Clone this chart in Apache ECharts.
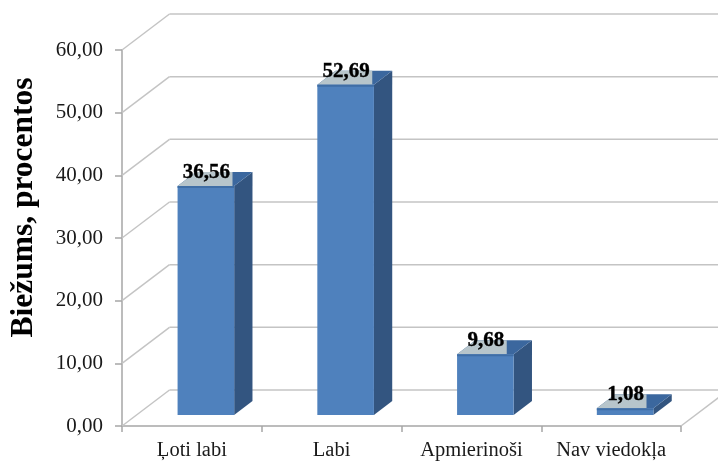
<!DOCTYPE html>
<html><head><meta charset="utf-8">
<style>html,body{margin:0;padding:0;background:#fff}#c{width:718px;height:462px;filter:blur(0.4px)}</style>
<script src="https://cdn.jsdelivr.net/npm/echarts@6/dist/echarts.min.js"></script>
</head><body><div id="c"></div>
<script>
const categories = ['Ļoti labi', 'Labi', 'Apmierinoši', 'Nav viedokļa'];
const values = [36.56, 52.69, 9.68, 1.08];
const tickValues = [0, 10, 20, 30, 40, 50, 60];
const fmt = v => v.toFixed(2).replace('.', ',');
const SERIF = '"Liberation Serif","Times New Roman",serif';
const WALL = [47.5, -36];      // depth of the chart box
const NEAR = [14, -11];        // bar front plane offset
const DEPTH = [18.3, -14];     // bar depth
const GRID = '#c4c4c4';
const LABEL_SIZE = 21;

const chart = echarts.init(document.getElementById('c'), null, {renderer: 'canvas'});
chart.setOption({
  animation: false,
  grid: {left: 122, right: 37, top: 50, bottom: 36, outerBoundsMode: 'none', containLabel: false},
  xAxis: {
    type: 'category', data: categories,
    axisLine: {lineStyle: {color: '#a6a6a6', width: 1.5}},
    axisTick: {show: true, alignWithLabel: false, length: 6, lineStyle: {color: '#a6a6a6', width: 1.5}},
    axisLabel: {color: '#1a1a1a', fontFamily: SERIF, fontSize: 20.5, margin: 14, interval: 0, hideOverlap: false}
  },
  yAxis: {
    type: 'value', min: 0, max: 60, interval: 10,
    name: 'Biežums, procentos', nameLocation: 'middle', nameGap: 82,
    nameTextStyle: {color: '#000', fontFamily: SERIF, fontSize: 31.5, fontWeight: 'bold', padding: [0, 0, 0, 61]},
    axisLine: {show: true, lineStyle: {color: '#a6a6a6', width: 1.5}},
    axisTick: {show: true, length: 7, lineStyle: {color: '#a6a6a6', width: 1.5}},
    splitLine: {show: false},
    axisLabel: {color: '#1a1a1a', fontFamily: SERIF, fontSize: 21, margin: 19, padding: [3, 0, 0, 0], formatter: fmt}
  },
  series: [
    {
      type: 'custom', silent: true, z: 1,
      data: tickValues.map(v => [v]),
      encode: {y: 0},
      renderItem(params, api) {
        const v = api.value(0);
        const l = api.coord([0, v]);
        const x0 = params.coordSys.x, x1 = x0 + params.coordSys.width;
        const y = l[1];
        const style = {stroke: GRID, lineWidth: 1.5, fill: null};
        const kids = [
          {type: 'line', shape: {x1: x0, y1: y, x2: x0 + WALL[0], y2: y + WALL[1]}, style},
          {type: 'line', shape: {x1: x0 + WALL[0], y1: y + WALL[1], x2: x1 + WALL[0], y2: y + WALL[1]}, style}
        ];
        if (v === 0) kids.push({type: 'line', shape: {x1: x1, y1: y, x2: x1 + WALL[0], y2: y + WALL[1]}, style});
        return {type: 'group', children: kids};
      }
    },
    {
      type: 'custom', z: 2,
      data: categories.map((c, i) => [i, values[i]]),
      encode: {x: 0, y: 1},
      renderItem(params, api) {
        const idx = api.value(0), val = api.value(1);
        const base = api.coord([idx, 0]), top = api.coord([idx, val]);
        const w = 56.6;
        const x = base[0] + NEAR[0] - w / 2, x2 = x + w;
        const yb = base[1] + NEAR[1], yt = top[1] + NEAR[1];
        const [dx, dy] = DEPTH;
        const text = fmt(val);
        const labelHalf = (text.length - 1) * 0.5 * LABEL_SIZE / 2 + 0.25 * LABEL_SIZE / 2;
        const grayR = x + w / 2 + labelHalf + 3;
        const poly = (pts, fill) => ({type: 'polygon', shape: {points: pts}, style: {fill, stroke: null}});
        return {type: 'group', children: [
          poly([[x2, yt], [x2 + dx, yt + dy], [x2 + dx, yb + dy], [x2, yb]], '#335580'),
          poly([[x, yt], [x + dx, yt + dy], [x2 + dx, yt + dy], [x2, yt]], '#3b679e'),
          poly([[x, yt], [x + dx, yt + dy], [grayR, yt + dy], [grayR, yt]], '#b7c5cb'),
          {type: 'rect', shape: {x, y: yt, width: w, height: yb - yt}, style: {fill: '#4f81bd'}},
          {type: 'rect', shape: {x, y: yt, width: w, height: 2}, style: {fill: '#3f6ea6'}},
          {type: 'text', x: x + w / 2 + 0.5, y: yt - 3, style: {
            text, fill: '#000', stroke: '#000', lineWidth: 0.4, font: 'bold ' + LABEL_SIZE + 'px ' + SERIF,
            align: 'center', verticalAlign: 'bottom'}, z2: 10}
        ]};
      }
    }
  ]
});
</script></body></html>
